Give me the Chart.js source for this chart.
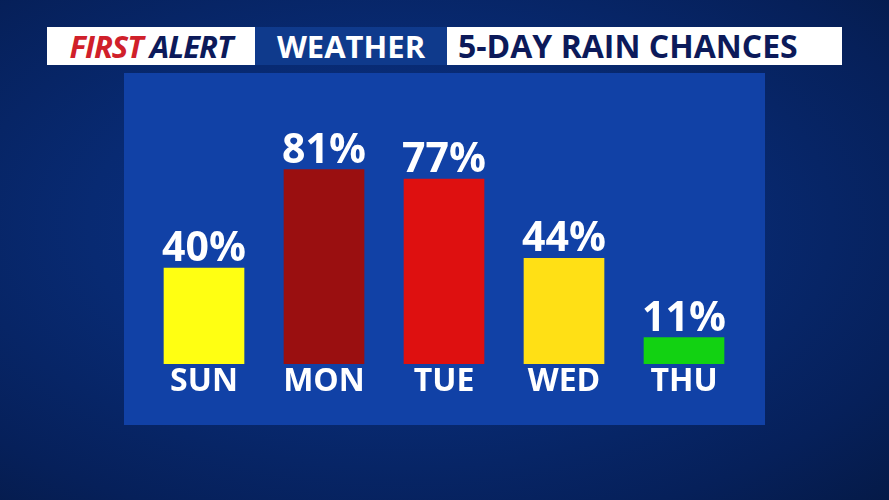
<!DOCTYPE html>
<html><head><meta charset="utf-8">
<script src="https://cdn.jsdelivr.net/npm/chart.js@4"></script>
<style>
html,body{margin:0;padding:0;width:889px;height:500px;overflow:hidden;font-family:"Open Sans",sans-serif}
#bg{position:absolute;left:0;top:0;width:889px;height:500px;background:radial-gradient(ellipse at 45% 45%,#0c3288 0%,#082a72 45%,#06205a 80%,#051a48 100%)}
.hb{position:absolute;top:27px;height:38px;font-weight:700;font-size:31px;line-height:38px;white-space:nowrap;overflow:hidden}
#panel{position:absolute;left:124px;top:73px;width:641px;height:352px;background:#1141a6}
</style></head><body>
<div id="bg"></div>
<div class="hb" style="left:47px;width:208px;background:#fff;text-align:center;font-style:italic;letter-spacing:-1px"><span style="color:#d0202a">FIRST</span> <span style="color:#0c1a5a">ALERT</span></div>
<div class="hb" style="left:255px;width:192px;background:#0f3a8c;color:#fff;text-align:center">WEATHER</div>
<div class="hb" style="left:447px;width:395px;background:#fff;color:#0c1a5a;padding-left:11px;box-sizing:border-box;font-size:32px">5-DAY RAIN CHANCES</div>
<div id="panel"><canvas id="c" width="641" height="352"></canvas></div>
<script>
const days=["SUN","MON","TUE","WED","THU"];
const chances=[40,81,77,44,11];
const barColors=["#ffff12","#9a0f10","#de1010","#ffe015","#12d212"];
const labelPlugin={id:"lbl",afterDatasetsDraw(ch){
 const ctx=ch.ctx,meta=ch.getDatasetMeta(0);
 ctx.save();ctx.fillStyle="#fff";ctx.textAlign="center";
 meta.data.forEach((b,i)=>{
  ctx.font="bold 41px 'Open Sans'";ctx.textBaseline="alphabetic";
  ctx.fillText(chances[i]+"%",b.x,b.y-7);
  ctx.font="bold 32px 'Open Sans'";ctx.textBaseline="middle";
  ctx.fillText(days[i],b.x,ch.chartArea.bottom+18);
 });ctx.restore();}};
new Chart(document.getElementById("c"),{type:"bar",
 data:{labels:days,datasets:[{data:chances,backgroundColor:barColors,barThickness:80}]},
 options:{responsive:false,animation:false,
  layout:{padding:{left:20,right:21,top:51,bottom:61}},
  plugins:{legend:{display:false},tooltip:{enabled:false}},
  scales:{x:{display:false},y:{display:false,min:0,max:100}}},
 plugins:[labelPlugin]});
</script></body></html>
